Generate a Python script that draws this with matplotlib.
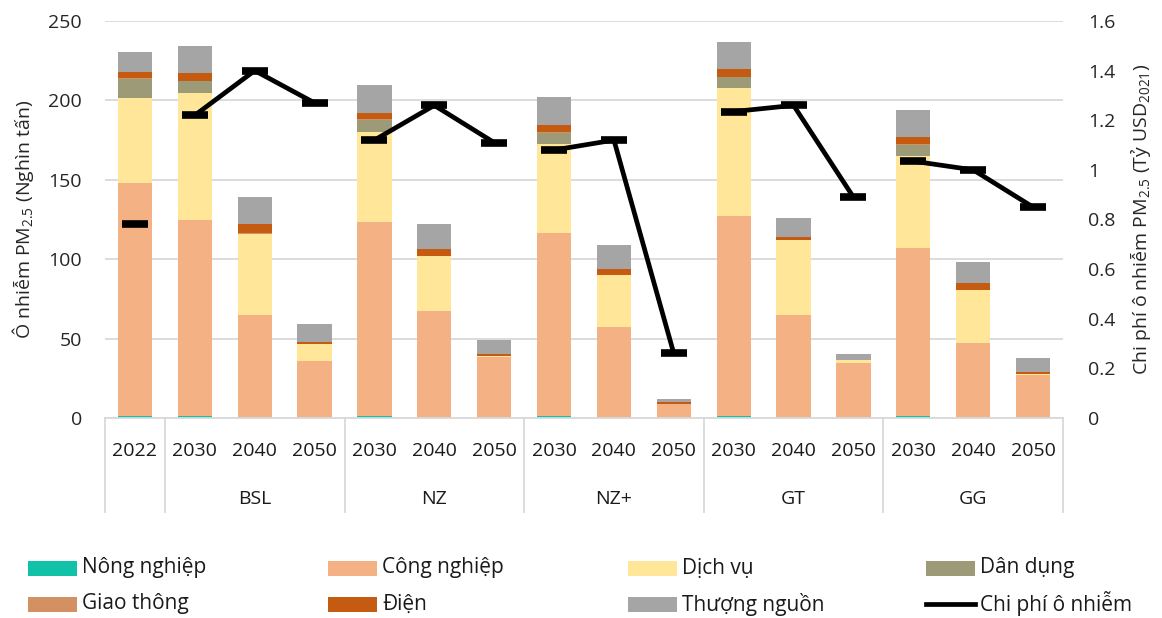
import matplotlib
matplotlib.use("Agg")
import matplotlib.pyplot as plt
from matplotlib.patches import Rectangle
from matplotlib.lines import Line2D
import matplotlib.transforms as mtransforms
import numpy as np

plt.rcParams['font.family'] = ['Open Sans', 'DejaVu Sans']
plt.rcParams['mathtext.default'] = 'regular'

# Category labels (year under each bar, scenario per group)
years = ['2022', '2030', '2040', '2050', '2030', '2040', '2050', '2030', '2040', '2050',
         '2030', '2040', '2050', '2030', '2040', '2050']
scenarios = ['', 'BSL', 'NZ', 'NZ+', 'GT', 'GG']
scenario_sizes = [1, 3, 3, 3, 3, 3]

# PM2.5 emissions by sector (thousand tonnes)
nong_nghiep = [1.0, 1.2, 0.3, 0.2, 1.2, 0.3, 0.2, 1.2, 0.3, 0.1, 1.2, 0.3, 0.2, 1.2, 0.3, 0.2]
cong_nghiep = [146.8, 123.5, 64.6, 35.9, 122.4, 67.1, 38.3, 115.1, 57.2, 8.6, 126.0, 64.6, 34.2, 105.8, 46.7, 27.1]
dich_vu = [53.5, 79.7, 51.1, 10.3, 56.7, 34.4, 0.4, 56.2, 32.4, 0.1, 80.4, 47.0, 2.0, 58.0, 33.4, 0.3]
dan_dung = [12.3, 7.7, 0.0, 0.0, 7.5, 0.0, 0.0, 7.1, 0.0, 0.0, 7.0, 0.0, 0.0, 7.0, 0.0, 0.0]
giao_thong = [0.3, 0.3, 0.3, 0.2, 0.3, 0.2, 0.1, 0.3, 0.2, 0.0, 0.3, 0.2, 0.1, 0.3, 0.2, 0.1]
dien = [3.8, 4.7, 5.9, 1.1, 4.2, 4.4, 1.3, 4.6, 3.7, 1.5, 4.7, 2.1, 0.2, 4.5, 4.2, 1.1]
thuong_nguon = [12.6, 17.4, 17.2, 11.3, 17.4, 15.8, 8.8, 17.4, 15.1, 1.5, 17.4, 11.6, 3.4, 17.1, 13.6, 9.2]

# Pollution cost (billion USD 2021)
chi_phi = [0.78, 1.22, 1.40, 1.27, 1.12, 1.26, 1.11, 1.08, 1.12, 0.26, 1.235, 1.26, 0.89, 1.035, 1.00, 0.85]

sector_names = ['Nông nghiệp', 'Công nghiệp', 'Dịch vụ', 'Dân dụng', 'Giao thông', 'Điện', 'Thượng nguồn']
sector_values = [nong_nghiep, cong_nghiep, dich_vu, dan_dung, giao_thong, dien, thuong_nguon]
sector_colors = ['#12C2A8', '#F4B183', '#FFE699', '#9C9A77', '#D39063', '#C55A11', '#A5A5A5']

FS = 14
W, H = 1162, 618
fig = plt.figure(figsize=(W / 100, H / 100), dpi=100)
ax = fig.add_axes([105 / W, 1 - 418 / H, (1063 - 105) / W, (418 - 21) / H])
ax2 = ax.twinx()

x = np.arange(len(years))
bottom = np.zeros(len(years))
for name, vals, col in zip(sector_names, sector_values, sector_colors):
    v = np.array(vals)
    ax.bar(x, v, bottom=bottom, width=0.57, color=col, linewidth=0, zorder=2)
    bottom += v

ax.set_xlim(-0.5, len(years) - 0.5)
ax.set_ylim(0, 250)
ax.set_yticks(np.arange(0, 251, 50))
ax.yaxis.grid(True, color='#D9D9D9', linewidth=1.3, zorder=0)
ax.set_axisbelow(True)
for s in ['top', 'right', 'left']:
    ax.spines[s].set_visible(False)
ax.spines['bottom'].set_color('#D9D9D9')
ax.spines['bottom'].set_linewidth(1.3)
ax.tick_params(axis='y', length=0, pad=16.5, labelsize=FS, colors='#262626')
ax.set_xticks(x)
ax.set_xticklabels(years)
ax.tick_params(axis='x', length=0, pad=17, labelsize=FS, colors='#1a1a1a')
ax.set_ylabel('Ô nhiễm PM$_{2.5}$ (Nghìn tấn)', fontsize=FS, color='#262626', labelpad=9)

# Group labels and separators below the axis
tr = mtransforms.blended_transform_factory(ax.transData, ax.transAxes)
start = 0
bounds = [-0.5]
for name, n in zip(scenarios, scenario_sizes):
    center = start + (n - 1) / 2
    if name:
        ax.text(center, -0.205, name, transform=tr, ha='center', va='center',
                fontsize=FS, color='#1a1a1a')
    start += n
    bounds.append(start - 0.5)
for b in bounds:
    ax.add_line(Line2D([b, b], [0, -0.237], transform=tr, color='#D9D9D9',
                       linewidth=1.3, clip_on=False))

# Cost line: one segment per scenario group
ax2.set_ylim(0, 1.6)
ax2.set_yticks(np.arange(0, 1.61, 0.2))
ax2.set_yticklabels(['0', '0.2', '0.4', '0.6', '0.8', '1', '1.2', '1.4', '1.6'])
for s in ['top', 'right', 'left', 'bottom']:
    ax2.spines[s].set_visible(False)
ax2.tick_params(axis='y', length=0, pad=18, labelsize=FS, colors='#262626')
ax2.set_ylabel('Chi phí ô nhiễm PM$_{2.5}$ (Tỷ USD$_{2021}$)', fontsize=FS,
               color='#262626', labelpad=9)
start = 0
for n in scenario_sizes:
    idx = np.arange(start, start + n)
    ax2.plot(idx, [chi_phi[i] for i in idx], color='black', linewidth=3.4,
             marker='_', markersize=19, markeredgewidth=5.5, solid_capstyle='butt', zorder=5)
    start += n

# Legend, 2 rows x 4 columns
col_x = [28, 328, 628, 926]
row_y = [568, 604]
entries = list(zip(sector_names, sector_colors)) + [('Chi phí ô nhiễm', None)]
for k, (name, col) in enumerate(entries):
    r, c = divmod(k, 4)
    x0 = col_x[c] / W
    yc = 1 - row_y[r] / H
    if col is not None:
        fig.add_artist(Rectangle((x0, yc - 7.5 / H), 49 / W, 15 / H, transform=fig.transFigure,
                                 facecolor=col, edgecolor='none'))
    else:
        fig.add_artist(Line2D([x0, x0 + 49 / W], [yc, yc], transform=fig.transFigure,
                              color='black', linewidth=3.4))
    fig.text(x0 + 54 / W, yc, name, ha='left', va='center', fontsize=15, color='#1a1a1a')

fig.savefig('out.png', dpi=100, facecolor='white')
